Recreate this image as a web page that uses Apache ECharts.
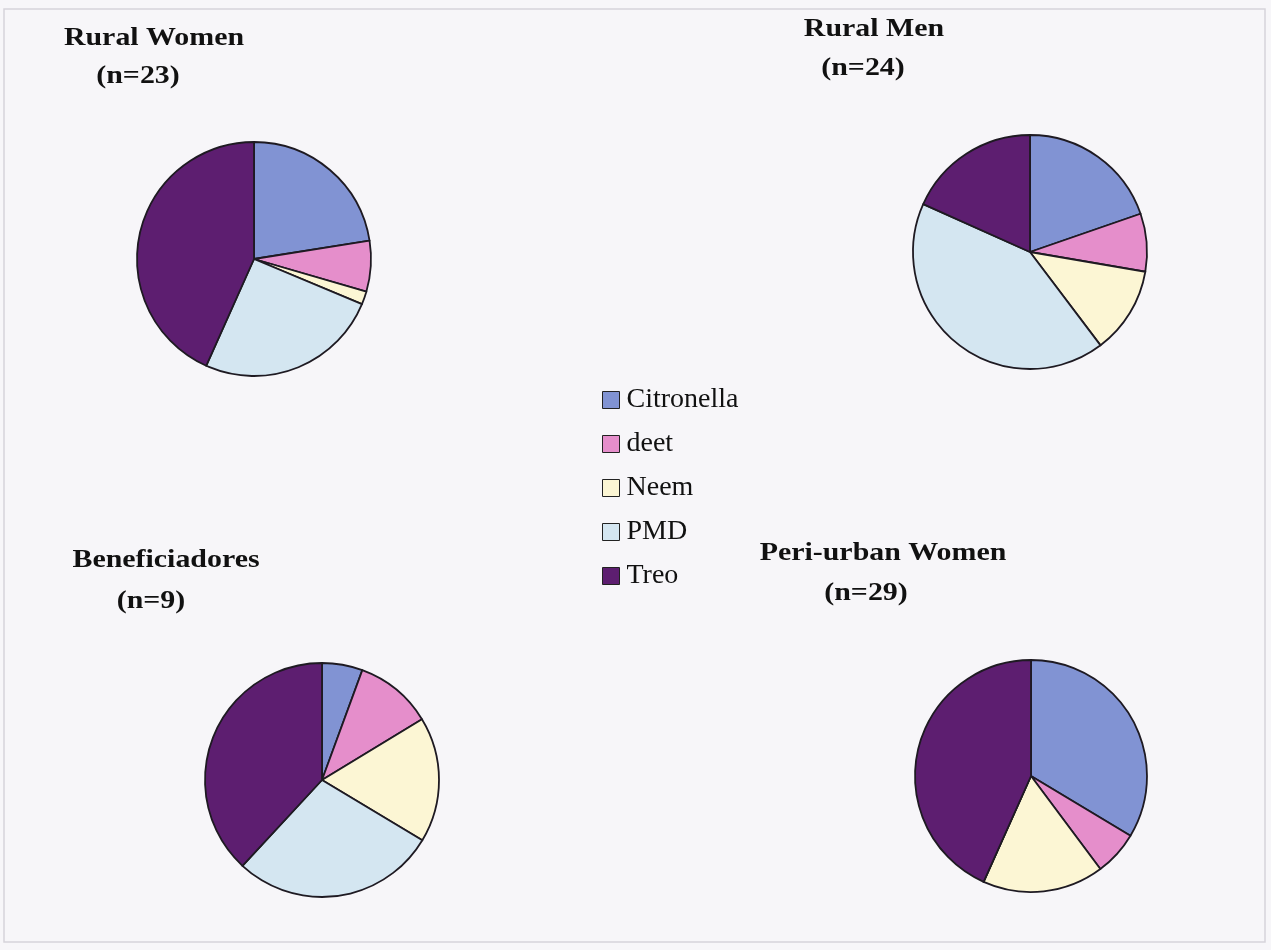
<!DOCTYPE html>
<html>
<head>
<meta charset="utf-8">
<script src="https://cdn.jsdelivr.net/npm/echarts@6/dist/echarts.min.js"></script>
<style>
html,body{margin:0;padding:0;background:#f7f6f9;}
#chart{width:1271px;height:950px;}
</style>
</head>
<body>
<div id="chart"></div>
<script>
// Categories (legend order)
const categories = ['Citronella', 'deet', 'Neem', 'PMD', 'Treo'];
// Group titles and sample sizes
const groupNames = ['Rural Women', 'Rural Men', 'Beneficiadores', 'Peri-urban Women'];
const groupN = ['(n=23)', '(n=24)', '(n=9)', '(n=29)'];
// Percent shares (Citronella, deet, Neem, PMD, Treo)
const ruralWomen = [22.5, 7.0, 1.8, 25.4, 43.3];
const ruralMen = [19.7, 8.0, 12.0, 42.0, 18.3];
const beneficiadores = [5.6, 10.7, 17.3, 28.3, 38.1];
const periUrbanWomen = [33.6, 6.2, 16.9, 0, 43.3];

const colors = ['#8193d3', '#e58ecb', '#fcf6d4', '#d4e6f1', '#5d1e70'];
const groupData = [ruralWomen, ruralMen, beneficiadores, periUrbanWomen];

const pieLayout = [
  {center: [254, 259], r: 117},
  {center: [1030, 252], r: 117},
  {center: [322, 780], r: 117},
  {center: [1031, 776], r: 116}
];
const titleLayout = [
  {x: 154, y: 38, nx: 138, ny: 76},
  {x: 874, y: 29, nx: 863, ny: 68},
  {x: 166, y: 560, nx: 151, ny: 601},
  {x: 883, y: 553, nx: 866, ny: 593}
];

const chart = echarts.init(document.getElementById('chart'), null, {renderer: 'canvas'});

const series = groupData.map((vals, i) => ({
  type: 'pie',
  name: groupNames[i],
  center: pieLayout[i].center,
  radius: [0, pieLayout[i].r],
  startAngle: 90,
  clockwise: true,
  label: {show: false},
  labelLine: {show: false},
  emphasis: {disabled: true},
  silent: true,
  itemStyle: {borderColor: '#1e1a22', borderWidth: 1.8},
  data: categories.map((c, k) => ({name: c, value: vals[k]}))
}));

const graphics = [{
  type: 'rect',
  shape: {x: 4, y: 9, width: 1261, height: 933},
  style: {fill: 'none', stroke: '#d6d4da', lineWidth: 1.5},
  silent: true
}];
groupNames.forEach((name, i) => {
  const t = titleLayout[i];
  graphics.push({
    type: 'text', x: t.x, y: t.y, scaleX: 1.15,
    style: {text: name, font: 'bold 26px "Liberation Serif"', fill: '#111', textAlign: 'center', textVerticalAlign: 'middle'}
  });
  graphics.push({
    type: 'text', x: t.nx, y: t.ny, scaleX: 1.15,
    style: {text: groupN[i], font: 'bold 26px "Liberation Serif"', fill: '#111', textAlign: 'center', textVerticalAlign: 'middle'}
  });
});

chart.setOption({
  backgroundColor: '#f7f6f9',
  animation: false,
  color: colors,
  legend: {
    orient: 'vertical',
    left: 597,
    top: 381,
    icon: 'rect',
    itemWidth: 17,
    itemHeight: 17,
    itemGap: 16,
    selectedMode: false,
    data: categories,
    itemStyle: {borderColor: '#222', borderWidth: 1},
    textStyle: {fontFamily: 'Liberation Serif', fontSize: 28, color: '#111', padding: [0, 0, 0, 2]}
  },
  graphic: graphics,
  series: series
});
</script>
</body>
</html>
